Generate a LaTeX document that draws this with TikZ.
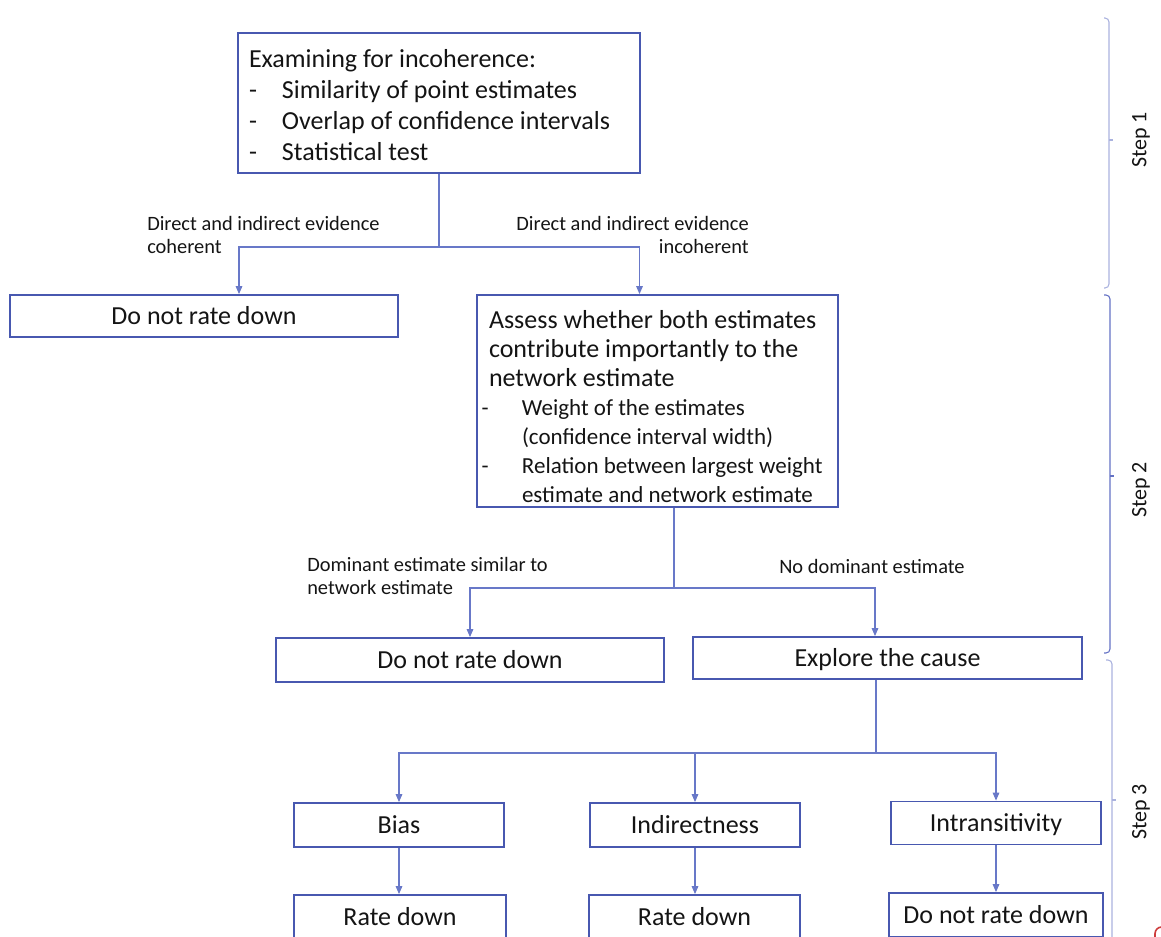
\documentclass[tikz,border=0pt]{standalone}
\usepackage{fontspec}
\setmainfont{Carlito}
\usetikzlibrary{arrows.meta,calc}
\definecolor{boxblue}{RGB}{72,88,176}
\definecolor{linkblue}{RGB}{104,120,200}
\definecolor{bracelight}{RGB}{170,178,222}
\definecolor{bracedark}{RGB}{100,114,196}
\definecolor{txt}{RGB}{20,20,20}
\definecolor{redmark}{RGB}{205,60,60}
\newcommand\topbul{\makebox[24.75pt][l]{-}}
\newcommand\subbul{\hspace*{3.4pt}\makebox[30.35pt][l]{-}}
\newcommand\subfont{\fontsize{17.25}{21.75}\selectfont}
\begin{document}
\begin{tikzpicture}[x=0.75pt,y=-0.75pt,
  box/.style={draw=boxblue,line width=1.4pt,inner sep=0pt,text=txt,
    font=\fontsize{19.5}{23.4}\selectfont},
  onebox/.style={box,text height=14.5pt,text depth=1.9pt},
  lab/.style={inner sep=0pt,text=txt,font=\fontsize{15.3}{17.25}\selectfont},
  link/.style={draw=linkblue,line width=0.8pt},
  arr/.style={link,-{Triangle[length=6pt,width=5pt]}},
  steplab/.style={rotate=90,inner sep=0pt,text=txt,font=\fontsize{16.5}{18}\selectfont}]
\useasboundingbox (0,0) rectangle (1161,936);
\clip (0,0) rectangle (1161,936);

% boxes
\node[box,minimum width=301.5pt,minimum height=105pt,text width=301.5pt,align=flush left,
  font=\fontsize{19.5}{23.25}\selectfont] (top) at (439,103)
  {\rule{0pt}{16.5pt}\hspace*{8.25pt}Examining for incoherence:\\
   \hspace*{8.25pt}\topbul Similarity of point estimates\\
   \hspace*{8.25pt}\topbul Overlap of confidence intervals\\
   \hspace*{8.25pt}\topbul Statistical test};

\node[onebox,minimum width=291pt,minimum height=31.5pt] (dnr1) at (204,316) {Do not rate down};

\node[box,minimum width=270.75pt,minimum height=159pt,text width=270.75pt,align=flush left,
  font=\fontsize{19.5}{21.75}\selectfont] (assess) at (657.5,401)
  {\rule{0pt}{22pt}\hspace*{9pt}Assess whether both estimates\\
   \hspace*{9pt}contribute importantly to the\\
   \hspace*{9pt}network estimate\\
   {\subfont\subbul Weight of the estimates}\\
   {\subfont\hspace*{33.75pt}(confidence interval width)}\\
   {\subfont\subbul Relation between largest weight}\\
   {\subfont\hspace*{33.75pt}estimate and network estimate}};

\node[onebox,minimum width=291pt,minimum height=33pt] (dnr2) at (470,660) {Do not rate down};
\node[onebox,minimum width=291.75pt,minimum height=31.5pt] (explore) at (887.5,658) {Explore the cause};

\node[onebox,minimum width=157.5pt,minimum height=33pt] (bias) at (399,825) {Bias};
\node[onebox,minimum width=157.5pt,minimum height=33pt] (indir) at (695,825) {Indirectness};
\node[onebox,minimum width=157.5pt,minimum height=32.25pt] (intrans) at (996,823) {Intransitivity};

\node[onebox,minimum width=159pt,minimum height=33pt] (rd1) at (400,917) {Rate down};
\node[onebox,minimum width=158.25pt,minimum height=33pt] (rd2) at (694.5,917) {Rate down};
\node[onebox,minimum width=160.5pt,minimum height=33pt] (dnr3) at (996,915) {Do not rate down};

% labels
\node[lab,anchor=north west,align=left] (l1) at (147,216) {Direct and indirect evidence\\coherent};
\node[lab,anchor=north east,align=right] (r1) at (749,216) {Direct and indirect evidence\\incoherent};
\node[lab,anchor=north west,align=left] (l2) at (307,557) {Dominant estimate similar to\\network estimate};
\node[lab,anchor=base west] (r2) at (779,573) {No dominant estimate};

% connectors
\coordinate (j1) at (439,247);
\draw[link] (top.south) -- (j1);
\draw[arr] (j1) -| ($(dnr1.north)+(35,0)$);
\draw[arr] (j1) -| ($(assess.north)+(-18,0)$);

\coordinate (j2) at (674,588);
\draw[link] ($(assess.south)+(16.5,0)$) -- (j2);
\draw[arr] (j2) -| (dnr2.north);
\draw[arr] (j2) -| ($(explore.north)+(-12.5,0)$);

\coordinate (j3) at (876,753);
\draw[link] ($(explore.south)+(-11.5,0)$) -- (j3);
\draw[arr] (j3) -| (bias.north);
\draw[arr] (j3) -| (indir.north);
\draw[arr] (j3) -| (intrans.north);

\draw[arr] (bias.south) -- (bias.south |- rd1.north);
\draw[arr] (indir.south) -- (indir.south |- rd2.north);
\draw[arr] (intrans.south) -- (intrans.south |- dnr3.north);

% step braces
\draw[bracelight,line width=0.8pt,rounded corners=3pt] (1104,18) -- (1109,18) -- (1109,288) -- (1104,288);
\draw[bracelight,line width=0.8pt] (1109,140) -- (1113,140);
\draw[bracedark,line width=0.8pt,rounded corners=3pt] (1104,295) -- (1110,295) -- (1110,653) -- (1104,653);
\draw[bracedark,line width=0.8pt] (1110,476) -- (1114,476);
\draw[bracelight,line width=0.8pt,rounded corners=3pt] (1106,660) -- (1112,660) -- (1112,960);
\draw[bracelight,line width=0.8pt] (1112,800) -- (1116,800);

\node[steplab] (s1) at (1141,140) {Step 1};
\node[steplab] (s2) at (1141,490) {Step 2};
\node[steplab] (s3) at (1141,812) {Step 3};

% partial red mark at the lower right corner
\draw[redmark,line width=1.2pt,rounded corners=5pt] (1155,960) -- (1155,927) -- (1185,927);
\end{tikzpicture}
\end{document}
